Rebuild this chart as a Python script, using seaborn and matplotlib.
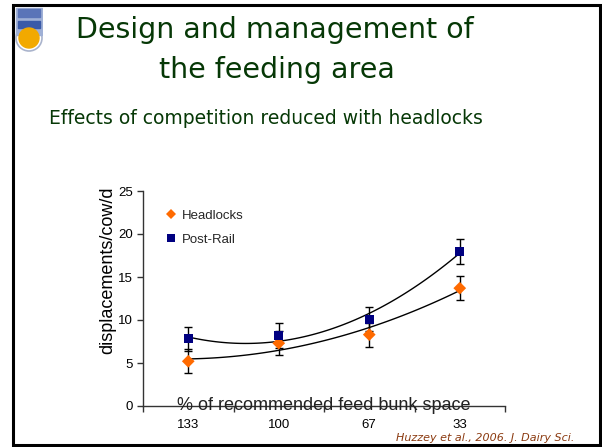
import matplotlib
matplotlib.use('Agg')
import matplotlib.pyplot as plt
import numpy as np
import pandas as pd
import seaborn as sns
from matplotlib.patches import Rectangle, Circle

# Data
space_labels = ['133', '100', '67', '33']
headlocks = [5.2, 7.3, 8.3, 13.7]
headlocks_err = [1.4, 1.4, 1.4, 1.4]
post_rail = [7.8, 8.2, 10.1, 18.0]
post_rail_err = [1.4, 1.4, 1.4, 1.45]

sns.set_theme(style='white')
plt.rcParams['font.family'] = ['Liberation Sans', 'DejaVu Sans']

W, H = 602, 447
fig = plt.figure(figsize=(W / 100, H / 100), dpi=100)
fig.patch.set_facecolor('white')

# slide frame
fig.add_artist(Rectangle((13 / W, 1 - 445 / H), 587 / W, 440 / H,
                         transform=fig.transFigure, fill=False,
                         edgecolor='black', linewidth=2.2))

# small UBC-ish logo (drawn in pixel units)
lax = fig.add_axes([15 / W, 1 - 55 / H, 28 / W, 48 / H])
lax.set_xlim(0, 28)
lax.set_ylim(0, 48)
lax.axis('off')
lax.add_patch(Circle((14, 17), 13, fill=False, edgecolor='#aab4cc', lw=1.2))
lax.add_patch(Rectangle((1, 20), 26, 27, color='#9fb0d6'))
lax.add_patch(Rectangle((3, 38), 22, 8, color='#5a74b8'))
lax.add_patch(Rectangle((3, 27), 22, 7, color='#3a5aa8'))
lax.add_patch(Circle((14, 17), 10, color='#f2a900'))

# title text
title_col = '#063806'
fig.text(275 / W, 1 - 30 / H, 'Design and management of', ha='center',
         va='center', fontsize=20.5, color=title_col, family='DejaVu Sans')
fig.text(277 / W, 1 - 70 / H, 'the feeding area', ha='center',
         va='center', fontsize=20.5, color=title_col, family='DejaVu Sans')
fig.text(266 / W, 1 - 118 / H, 'Effects of competition reduced with headlocks',
         ha='center', va='center', fontsize=13.5, color=title_col,
         family='DejaVu Sans')
fig.text(574 / W, 1 - 438 / H, 'Huzzey et al., 2006. J. Dairy Sci.',
         ha='right', va='center', fontsize=8, color='#8b3a10',
         style='italic', family='DejaVu Sans')

# chart
ax = fig.add_axes([143 / W, 1 - 406 / H, 362 / W, 215 / H])
pos = np.arange(len(space_labels))
df = pd.DataFrame({'pos': np.concatenate([pos, pos]),
                   'value': headlocks + post_rail,
                   'group': ['Headlocks'] * 4 + ['Post-Rail'] * 4})

# 2nd order trendlines like the original spreadsheet chart
for vals in (headlocks, post_rail):
    sns.regplot(x=pos, y=np.array(vals), order=2, ci=None, scatter=False,
                ax=ax, line_kws=dict(color='black', lw=1))

ax.errorbar(pos, headlocks, yerr=headlocks_err, fmt='none', ecolor='black',
            elinewidth=1, capsize=3, capthick=1, zorder=3)
ax.errorbar(pos, post_rail, yerr=post_rail_err, fmt='none', ecolor='black',
            elinewidth=1, capsize=3, capthick=1, zorder=3)

sns.scatterplot(data=df, x='pos', y='value', hue='group', style='group',
                palette={'Headlocks': '#ff6a00', 'Post-Rail': '#000080'},
                markers={'Headlocks': 'D', 'Post-Rail': 's'},
                s=42, linewidth=0, ax=ax, zorder=4)

ax.set_xlim(-0.5, 3.5)
ax.set_ylim(0, 25)
ax.set_yticks([0, 5, 10, 15, 20, 25])
ax.set_xticks(pos)
ax.set_xticklabels(space_labels)
ax.set_xticks(np.arange(-0.5, 4, 1), minor=True)
ax.tick_params(axis='x', which='major', length=0, pad=9, labelsize=9.5,
               colors='black')
ax.tick_params(axis='x', which='minor', length=4, width=1, direction='out',
               color='#333333', bottom=True)
ax.tick_params(axis='y', length=4, width=1, direction='out', left=True,
               labelsize=9.5, color='#333333', labelcolor='black', pad=3)
for s in ('top', 'right'):
    ax.spines[s].set_visible(False)
for s in ('left', 'bottom'):
    ax.spines[s].set_color('#333333')
    ax.spines[s].set_linewidth(1)
ax.set_facecolor('none')
ax.set_xlabel('')
ax.set_ylabel('displacements/cow/d', fontsize=13, color='black')
ax.yaxis.set_label_coords(-0.075, 0.63)
ax.text(1.5, 0.1, '% of recommended feed bunk space', ha='center',
        va='center', fontsize=13, color='#222222', zorder=5)

leg = ax.legend(loc='upper left', bbox_to_anchor=(0.03, 0.97), frameon=False,
                fontsize=9.5, handlelength=0.8, handletextpad=0.4,
                labelspacing=0.9, markerscale=0.85)

fig.savefig('out.png', dpi=100)
